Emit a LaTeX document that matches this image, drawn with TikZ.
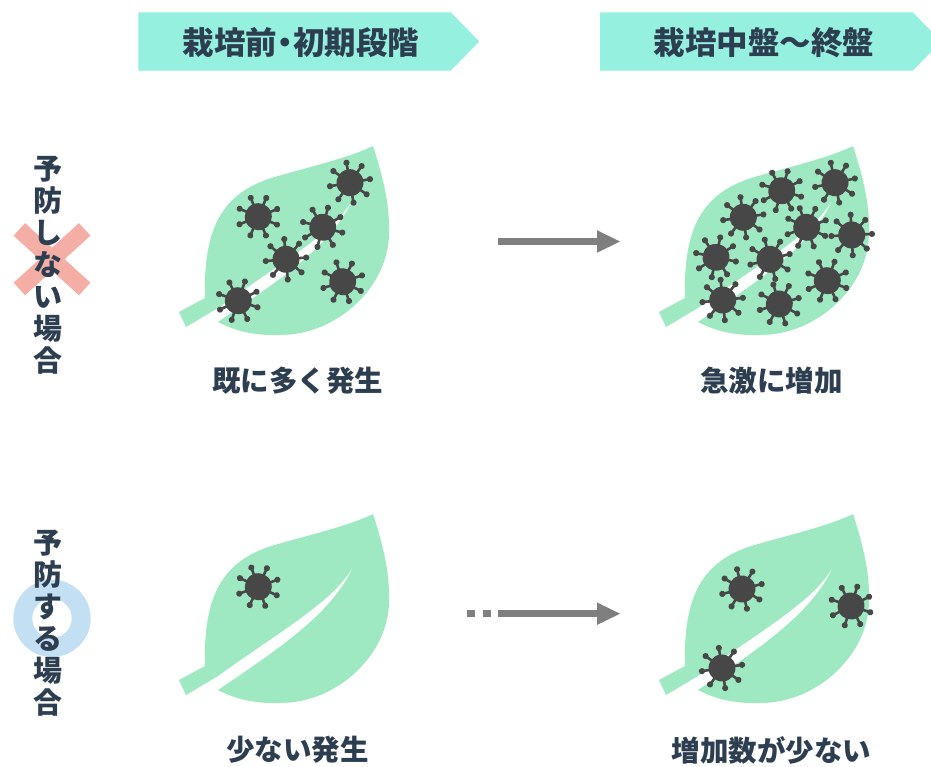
\documentclass[tikz,border=0pt]{standalone}
\usepackage{fontspec}
\newfontfamily\jp{Noto Sans CJK JP}
\newfontfamily\jpprop{Noto Sans CJK JP}[RawFeature=+palt]
\usetikzlibrary{arrows.meta}

\definecolor{hdrfill}{RGB}{150,240,223}
\definecolor{leafgreen}{RGB}{159,233,194}
\definecolor{virusgrey}{RGB}{71,71,71}
\definecolor{inkblue}{RGB}{44,62,80}
\definecolor{crossred}{RGB}{244,174,166}
\definecolor{ringblue}{RGB}{194,223,244}
\definecolor{arrowgrey}{RGB}{127,127,127}

\tikzset{
  % leaf silhouette, tip at the origin, with the white midrib cut out
  leaf/.pic={
    \fill[leafgreen] (0,0) .. controls (8,25) and (17,55) .. (16,87)
      .. controls (16,140) and (-35,189) .. (-93,189)
      .. controls (-120,190) and (-140,184) .. (-155,176)
      .. controls (-95,135) and (-40,100) .. (-18,49)
      .. controls (-35,85) and (-90,115) .. (-155,162)
      -- (-187,181) -- (-194,166) -- (-168,152)
      .. controls (-170,80) and (-150,45) .. (-95,30)
      .. controls (-60,20) and (-25,12) .. cycle;
  },
  % virus particle: round body with eight knobbed spikes
  virus/.pic={
    \fill[virusgrey] (0,0) circle (13.5);
    \foreach \a in {0,45,...,315}{
      \draw[virusgrey, line width=2.6pt] (0,0) -- (\a:20);
      \fill[virusgrey] (\a:20.3) circle (3.1);
    }
  },
  hdrtext/.style={text=inkblue, font=\jp\bfseries\fontsize{31.5}{32}\selectfont, inner sep=0pt},
  hdrtextp/.style={text=inkblue, font=\jpprop\bfseries\fontsize{31.5}{32}\selectfont, inner sep=0pt},
  captext/.style={text=inkblue, font=\jp\bfseries\fontsize{28.5}{30}\selectfont, inner sep=0pt},
  sidetext/.style={text=inkblue, align=center, inner sep=0pt,
    font=\jp\bfseries\fontsize{29}{32}\selectfont},
  flow/.style={draw=arrowgrey, line width=7.3pt,
    -{Triangle[length=23pt, width=22.5pt, line width=0pt]}},
  dots/.style={draw=arrowgrey, line width=7.3pt, dash pattern=on 8pt off 8pt},
}

\begin{document}
\begin{tikzpicture}[x=1pt, y=-1pt]
\useasboundingbox (0,0) rectangle (931,767);
\clip (0,0) rectangle (931,767);

% stage headers
\fill[hdrfill] (138.3,12.3) -- (450.7,12.3) -- (479.3,41.5) -- (450.7,70.7) -- (138.3,70.7) -- cycle;
\fill[hdrfill] (600,12.3) -- (912.7,12.3) -- (941.3,41.5) -- (912.7,70.7) -- (600,70.7) -- cycle;
\node[hdrtextp] (hdrA) at (301,42.5) {栽培前・初期段階};
\node[hdrtext] (hdrB) at (764,42.5) {栽培中盤～終盤};

% row markers
\draw[crossred, line width=17pt] (19.3,229.4) -- (84.7,289) (84.7,229.4) -- (19.3,289);
\draw[ringblue, line width=19pt] (52,618.3) circle (29.2);
\node[sidetext] (sideA) at (48,265.3) {予\\防\\し\\な\\い\\場\\合};
\node[sidetext] (sideB) at (48,623.7) {予\\防\\す\\る\\場\\合};

% leaves
\pic at (373,146) {leaf};
\pic at (853,146) {leaf};
\pic at (373,514) {leaf};
\pic at (853,514) {leaf};

% viruses, first row
\pic[rotate=22] at (258.3,216.7) {virus};
\pic[rotate=10] at (350,182.7) {virus};
\pic[rotate=30] at (322.7,227.3) {virus};
\pic[rotate=5]  at (286,259.3) {virus};
\pic[rotate=18] at (342.7,281.7) {virus};
\pic[rotate=26] at (238.3,300.7) {virus};

\pic[rotate=12] at (835,182.7) {virus};
\pic[rotate=28] at (781.7,190.7) {virus};
\pic[rotate=8]  at (743.3,217.3) {virus};
\pic[rotate=20] at (806.7,227.3) {virus};
\pic[rotate=3]  at (851.7,235) {virus};
\pic[rotate=33] at (716,257.3) {virus};
\pic[rotate=15] at (770,259.3) {virus};
\pic[rotate=24] at (827.3,280.7) {virus};
\pic[rotate=6]  at (722.7,300) {virus};
\pic[rotate=17] at (779.3,304) {virus};

% viruses, second row
\pic[rotate=20] at (258.3,586.7) {virus};
\pic[rotate=14] at (742,589) {virus};
\pic[rotate=27] at (851,606) {virus};
\pic[rotate=9]  at (722,668) {virus};

% progression arrows
\coordinate (arrAfrom) at (497.5,241.5);
\coordinate (arrAto) at (620,241.5);
\draw[flow] (arrAfrom) -- (arrAto);
\coordinate (arrBdots) at (466.7,613.7);
\coordinate (arrBfrom) at (498.3,613.7);
\coordinate (arrBto) at (620,613.7);
\draw[dots] (arrBdots) -- (arrBfrom);
\draw[flow] (arrBfrom) -- (arrBto);

% captions
\node[captext] (capA) at (297.5,381) {既に多く発生};
\node[captext] (capB) at (771.5,381) {急激に増加};
\node[captext] (capC) at (297.5,750) {少ない発生};
\node[captext] (capD) at (771.5,750) {増加数が少ない};
\end{tikzpicture}
\end{document}
